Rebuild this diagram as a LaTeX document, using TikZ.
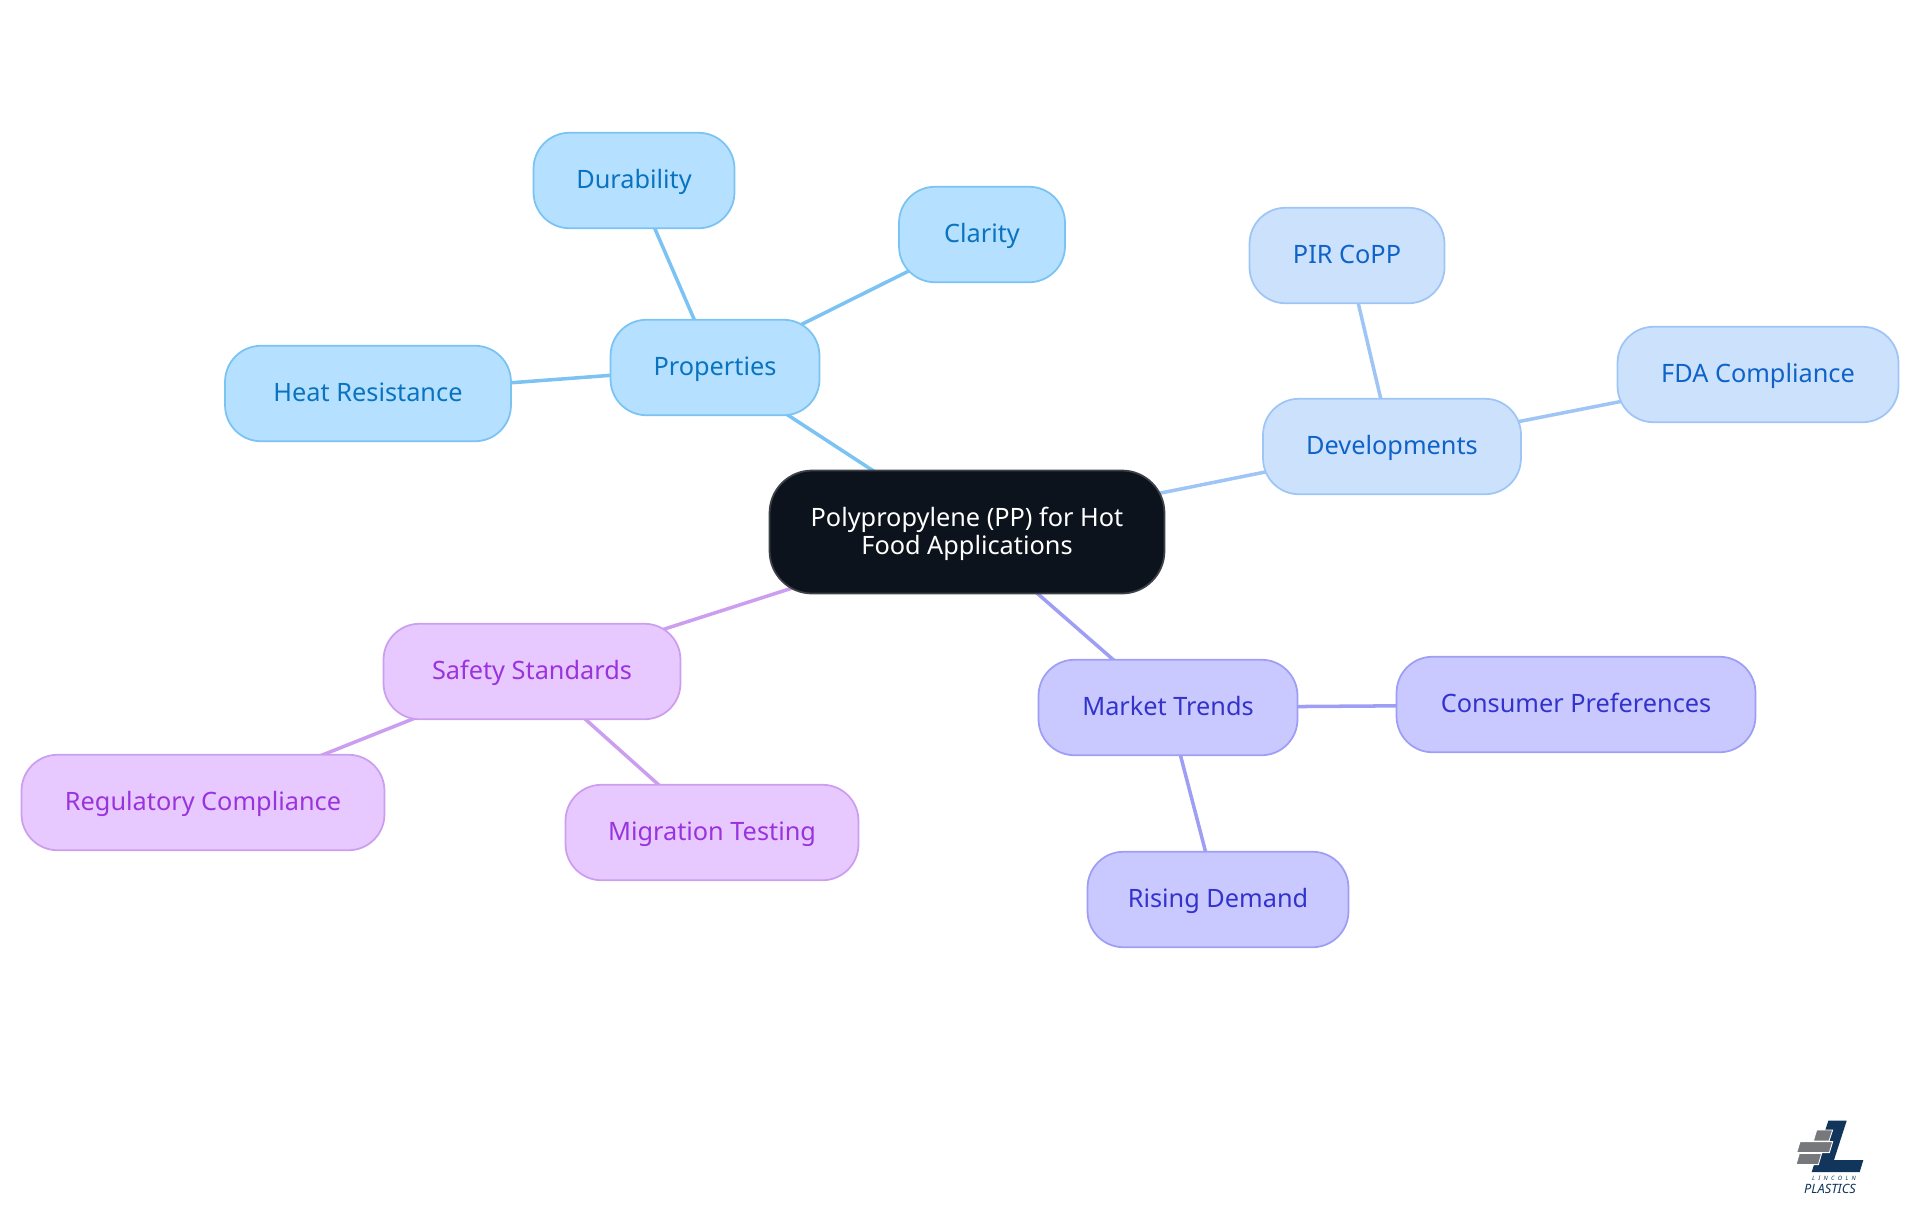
\documentclass[tikz,border=0pt]{standalone}
\usepackage{fontspec}
\setmainfont{Noto Sans}
\usetikzlibrary{backgrounds}
\definecolor{rootfill}{HTML}{0D131C}
\definecolor{propfill}{HTML}{B5E0FF}
\definecolor{propline}{HTML}{7BC3F2}
\definecolor{proptext}{HTML}{0A73C0}
\definecolor{devfill}{HTML}{CCE2FC}
\definecolor{devline}{HTML}{9EC5F5}
\definecolor{devtext}{HTML}{0F62C8}
\definecolor{marketfill}{HTML}{C9C9FF}
\definecolor{marketline}{HTML}{9E9EF5}
\definecolor{markettext}{HTML}{3333CC}
\definecolor{safefill}{HTML}{E8C9FF}
\definecolor{safeline}{HTML}{CC9EF0}
\definecolor{safetext}{HTML}{9933DD}
\definecolor{logonavy}{HTML}{12355B}
\definecolor{logogray}{HTML}{77787B}

\begin{document}
\begin{tikzpicture}[x=0.02cm,y=-0.02cm,
  main node/.style={rounded corners=0.72cm,draw,line width=1pt,minimum height=1.91cm,
    inner sep=0pt,align=center,font=\fontsize{14.4}{16}\selectfont},
  branch node/.style={main node,text height=0.42cm,text depth=0.1cm},
  prop node/.style={branch node,fill=propfill,draw=propline,text=proptext},
  dev node/.style={branch node,fill=devfill,draw=devline,text=devtext},
  market node/.style={branch node,fill=marketfill,draw=marketline,text=markettext},
  safe node/.style={branch node,fill=safefill,draw=safeline,text=safetext}]
  \useasboundingbox (0,0) rectangle (1920,1215);

  \node[main node,rounded corners=0.85cm,fill=rootfill,draw=rootfill!80!white,text=white,
    minimum width=7.9cm,minimum height=2.46cm] (root) at (967,532)
    {\rule{0pt}{0.46cm}Polypropylene (PP) for Hot\\Food Applications};

  \node[prop node,minimum width=4.18cm] (prop) at (715,367.5) {Properties};
  \node[prop node,minimum width=4.02cm] (dura) at (634,180.5) {Durability};
  \node[prop node,minimum width=3.32cm] (clar) at (982,234.5) {Clarity};
  \node[prop node,minimum width=5.72cm] (heat) at (368,393.5) {Heat Resistance};

  \node[dev node,minimum width=5.16cm] (dev) at (1392,446.5) {Developments};
  \node[dev node,minimum width=3.9cm] (pir) at (1347,255.5) {PIR CoPP};
  \node[dev node,minimum width=5.62cm] (fda) at (1758,374.5) {FDA Compliance};

  \node[market node,minimum width=5.18cm] (market) at (1168,707.5) {Market Trends};
  \node[market node,minimum width=7.18cm] (cons) at (1576,704.5) {Consumer Preferences};
  \node[market node,minimum width=5.22cm] (rise) at (1218,899.5) {Rising Demand};

  \node[safe node,minimum width=5.94cm] (safe) at (532,671.5) {Safety Standards};
  \node[safe node,minimum width=7.26cm] (regu) at (203,802.5) {Regulatory Compliance};
  \node[safe node,minimum width=5.86cm] (migr) at (712,832.5) {Migration Testing};

  \begin{pgfonlayer}{background}
    \path[draw=propline,line width=2pt]
      (root.center) edge (prop.center)
      (prop.center) edge (dura.center)
                    edge (clar.center)
                    edge (heat.center);
    \path[draw=devline,line width=2pt]
      (root.center) edge (dev.center)
      (dev.center) edge (pir.center)
                   edge (fda.center);
    \path[draw=marketline,line width=2pt]
      (root.center) edge (market.center)
      (market.center) edge (cons.center)
                      edge (rise.center);
    \path[draw=safeline,line width=2pt]
      (root.center) edge (safe.center)
      (safe.center) edge (regu.center)
                    edge (migr.center);
  \end{pgfonlayer}

  % logo
  \begin{scope}[shift={(1760,1090)},x=0.02cm/3,y=-0.02cm/3]
    \fill[logonavy] (205,92) -- (260,92) -- (222,210) -- (310,210) -- (299,246) -- (155,246) -- cycle;
    \filldraw[logogray,draw=white,line width=0.5pt] (170,120) -- (218,120) -- (207,153) -- (160,153) -- cycle;
    \filldraw[logogray,draw=white,line width=0.5pt] (120,155) -- (218,155) -- (208,188) -- (110,188) -- cycle;
    \filldraw[logogray,draw=white,line width=0.5pt] (118,190) -- (185,190) -- (175,224) -- (108,224) -- cycle;
    \node[text=logonavy,inner sep=0pt,font=\fontsize{3.4}{4}\selectfont\itshape] (lincoln) at (222,265) {L\;\;I\;\;N\;\;C\;\;O\;\;L\;\;N};
    \node[text=logonavy,inner sep=0pt,font=\fontsize{7.3}{8}\selectfont\bfseries\itshape] (plastics) at (210,296) {PLASTICS};
  \end{scope}
\end{tikzpicture}
\end{document}
